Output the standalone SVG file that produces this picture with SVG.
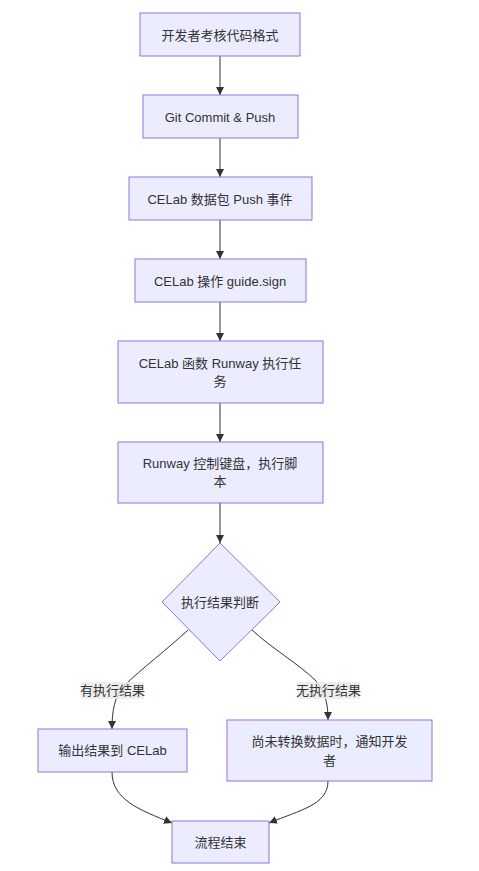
<svg xmlns="http://www.w3.org/2000/svg" width="479" height="871" viewBox="0 0 479 871">
<style>
.node{fill:#ECECFF;stroke:#9370DB;stroke-width:1}
.t{font-family:"Liberation Sans","Noto Sans CJK SC",sans-serif;font-size:13px;fill:#333;text-anchor:middle;dominant-baseline:central}
.e{fill:none;stroke:#333;stroke-width:1}
.lb{fill:#e8e8e8;opacity:0.8}
</style>
<defs>
<marker id="arr" viewBox="0 0 10 10" refX="10" refY="5" markerUnits="userSpaceOnUse" markerWidth="8" markerHeight="8" orient="auto">
<path d="M0,0 L10,5 L0,10 z" fill="#333"/>
</marker>
</defs>
<rect width="479" height="871" fill="#fff"/>
<g id="edges">
<path class="e" d="M220,56 L220,95" marker-end="url(#arr)"/>
<path class="e" d="M220,138 L220,177" marker-end="url(#arr)"/>
<path class="e" d="M220,220 L220,259" marker-end="url(#arr)"/>
<path class="e" d="M220,302 L220,341" marker-end="url(#arr)"/>
<path class="e" d="M220,403 L220,442" marker-end="url(#arr)"/>
<path class="e" d="M220,503 L220,543" marker-end="url(#arr)"/>
<path class="e" d="M188,630 C170,647 140,670 125,685 C114,696 112,712 112,729" marker-end="url(#arr)"/>
<path class="e" d="M252,630 C270,647 300,665 315,680 C326,692 328,705 328,720" marker-end="url(#arr)"/>
<path class="e" d="M112,772 C112,800 140,810 172,823" marker-end="url(#arr)"/>
<path class="e" d="M328,781 C328,805 300,810 269,823" marker-end="url(#arr)"/>
<g id="label-yes"><rect class="lb" x="81" y="682" width="63" height="17"/><text class="t" x="112.5" y="690.5">有执行结果</text></g>
<g id="label-no"><rect class="lb" x="297" y="682" width="63" height="17"/><text class="t" x="328.5" y="690.5">无执行结果</text></g>
</g>
<g id="n1"><rect class="node" x="140" y="13" width="160" height="43"/><text class="t" x="220" y="35">开发者考核代码格式</text></g>
<g id="n2"><rect class="node" x="143" y="95" width="155" height="43"/><text class="t" x="220" y="117">Git Commit &amp; Push</text></g>
<g id="n3"><rect class="node" x="129" y="177" width="183" height="43"/><text class="t" x="220" y="199">CELab 数据包 Push 事件</text></g>
<g id="n4"><rect class="node" x="135" y="259" width="171" height="43"/><text class="t" x="220" y="281">CELab 操作 guide.sign</text></g>
<g id="n5"><rect class="node" x="118" y="341" width="205" height="62"/><text class="t" x="220" y="363">CELab 函数 Runway 执行任</text><text class="t" x="220" y="381">务</text></g>
<g id="n6"><rect class="node" x="118" y="442" width="205" height="61"/><text class="t" x="220" y="463">Runway 控制键盘，执行脚</text><text class="t" x="220" y="481">本</text></g>
<g id="d"><polygon class="node" points="220,543 280,602 220,661 162,602"/><text class="t" x="220" y="602">执行结果判断</text></g>
<g id="yes"><rect class="node" x="38" y="729" width="149" height="43"/><text class="t" x="112.5" y="750.5">输出结果到 CELab</text></g>
<g id="no"><rect class="node" x="227" y="720" width="205" height="61"/><text class="t" x="329.5" y="741">尚未转换数据时，通知开发</text><text class="t" x="329.5" y="760">者</text></g>
<g id="end"><rect class="node" x="172" y="821" width="97" height="42"/><text class="t" x="220.5" y="842">流程结束</text></g>
</svg>
